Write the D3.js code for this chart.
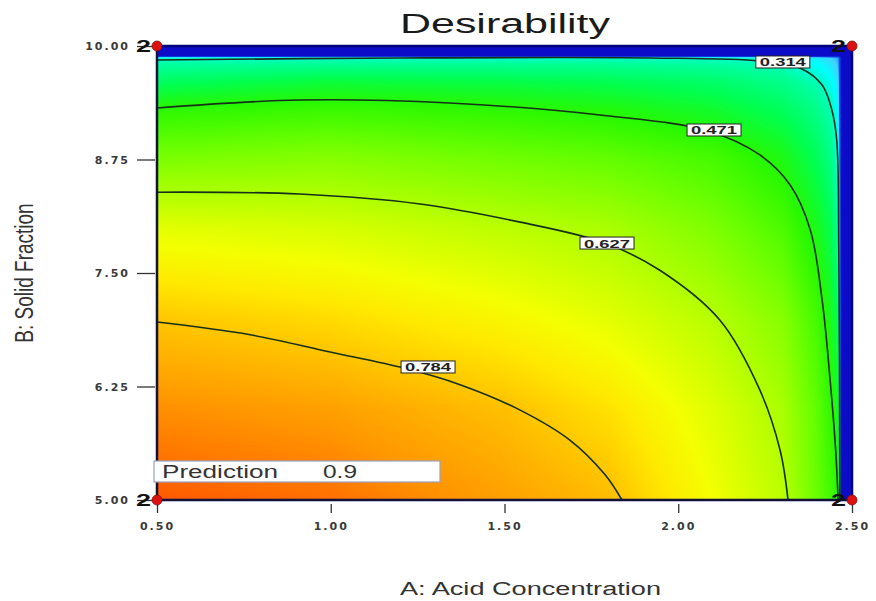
<!DOCTYPE html>
<html>
<head>
<meta charset="utf-8">
<script src="https://cdnjs.cloudflare.com/ajax/libs/d3/7.8.5/d3.min.js"></script>
<style>
  body { margin: 0; background: #fff; }
  svg { display: block; }
</style>
</head>
<body>
<svg id="chart" width="876" height="601"></svg>
<script>
(function() {
  'use strict';

  // axis ticks
  var xTicks = [0.50, 1.00, 1.50, 2.00, 2.50];
  var yTicks = [5.00, 6.25, 7.50, 8.75, 10.00];

  // desirability at grid nodes (A across, B down the list)
  var gridA = [0.50, 1.00, 1.50, 1.80, 2.10, 2.30, 2.40, 2.44, 2.46, 2.47, 2.50];
  var gridB = [5.00, 6.00, 7.00, 8.00, 8.80, 9.30, 9.60, 9.80, 9.87, 9.89, 10.00];
  var desirability = [
    [0.90, 0.88, 0.83, 0.795, 0.70, 0.635, 0.54, 0.50, 0.47, 0, 0],
    [0.85, 0.83, 0.79, 0.748, 0.675, 0.615, 0.53, 0.478, 0.44, 0, 0],
    [0.78, 0.755, 0.715, 0.68, 0.63, 0.575, 0.50, 0.445, 0.39, 0, 0],
    [0.68, 0.665, 0.635, 0.615, 0.565, 0.51, 0.445, 0.40, 0.33, 0, 0],
    [0.555, 0.57, 0.545, 0.53, 0.50, 0.45, 0.39, 0.35, 0.29, 0, 0],
    [0.474, 0.49, 0.475, 0.46, 0.43, 0.39, 0.35, 0.315, 0.26, 0, 0],
    [0.39, 0.42, 0.41, 0.40, 0.38, 0.35, 0.315, 0.28, 0.24, 0, 0],
    [0.33, 0.34, 0.34, 0.34, 0.33, 0.31, 0.27, 0.24, 0.21, 0, 0],
    [0.30, 0.30, 0.30, 0.30, 0.30, 0.28, 0.25, 0.22, 0.20, 0, 0],
    [0, 0, 0, 0, 0, 0, 0, 0, 0, 0, 0],
    [0, 0, 0, 0, 0, 0, 0, 0, 0, 0, 0]
  ];

  // contour lines [A, B]
  var line314 = [[0.500, 9.846], [1.199, 9.868], [1.919, 9.868], [2.235, 9.835], [2.350, 9.758],
                 [2.414, 9.570], [2.442, 9.295], [2.456, 8.965], [2.462, 7.753], [2.465, 5.000]];
  var line471 = [[0.500, 9.317], [0.912, 9.405], [1.343, 9.372], [1.775, 9.240], [2.086, 9.064],
                 [2.235, 8.800], [2.322, 8.469], [2.380, 7.974], [2.414, 7.203], [2.437, 6.322],
                 [2.453, 5.551], [2.460, 5.000]];
  var line627 = [[0.500, 8.390], [0.911, 8.370], [1.257, 8.260], [1.545, 8.060], [1.789, 7.830],
                 [1.947, 7.530], [2.120, 6.980], [2.235, 6.210], [2.293, 5.550], [2.316, 5.000]];
  var line784 = [[0.500, 6.960], [0.768, 6.820], [0.998, 6.630], [1.214, 6.450], [1.372, 6.270],
                 [1.545, 5.990], [1.688, 5.660], [1.789, 5.280], [1.838, 5.000]];

  var levels = ["0.314", "0.471", "0.627", "0.784"];
  var labelAt = [[2.301, 9.824], [2.103, 9.075], [1.795, 7.830], [1.280, 6.465]];
  var contourLines = [line314, line471, line627, line784];

  // design points [A, B, replicates]
  var designPoints = [[0.5, 10, 2], [2.5, 10, 2], [0.5, 5, 2], [2.5, 5, 2]];
  var prediction = 0.9;

  var colorStops = [0, 0.16, 0.22, 0.27, 0.33, 0.40, 0.47, 0.55, 0.627, 0.70, 0.74, 0.784, 0.84, 0.88, 0.91];
  var colorRamp = ["#0c0cc8", "#1060f0", "#40d0ff", "#00ffff", "#00ffa0", "#00ff50", "#28f800",
                   "#70ff00", "#b4ff00", "#f4ff00", "#ffe800", "#ffc400", "#ff9800", "#ff7000", "#ff4c00"];

  var svg = d3.select("#chart");

  var x = d3.scaleLinear().domain([0.5, 2.5]).range([157, 852]);
  var y = d3.scaleLinear().domain([5, 10]).range([500, 46]);
  var color = d3.scaleLinear().domain(colorStops).range(colorRamp).clamp(true);

  // colour lookup table
  var lut = d3.range(1001).map(function(k) { return d3.rgb(color(k / 1000 * 0.91)); });

  var locate = function(arr, v) {
    var i = d3.bisectRight(arr, v) - 1;
    i = Math.max(0, Math.min(arr.length - 2, i));
    var t = (v - arr[i]) / (arr[i + 1] - arr[i]);
    return [i, Math.max(0, Math.min(1, t))];
  };

  // Paint the response surface
  var x0 = x.range()[0], y0 = y.range()[1];
  var W = Math.round(x.range()[1] - x0), H = Math.round(y.range()[0] - y0);
  var canvas = document.createElement("canvas");
  canvas.width = W; canvas.height = H;
  var ctx = canvas.getContext("2d");
  var img = ctx.createImageData(W, H);
  var cols = [];
  for (var px = 0; px < W; px++) cols.push(locate(gridA, x.invert(x0 + px + 0.5)));
  for (var py = 0; py < H; py++) {
    var lb = locate(gridB, y.invert(y0 + py + 0.5)), j = lb[0], tb = lb[1];
    for (px = 0; px < W; px++) {
      var i = cols[px][0], ta = cols[px][1];
      var v = (1 - ta) * (1 - tb) * desirability[j][i] + ta * (1 - tb) * desirability[j][i + 1] +
              (1 - ta) * tb * desirability[j + 1][i] + ta * tb * desirability[j + 1][i + 1];
      var c = lut[Math.max(0, Math.min(1000, Math.round(v / 0.91 * 1000)))];
      var o = (py * W + px) * 4;
      img.data[o] = c.r; img.data[o + 1] = c.g; img.data[o + 2] = c.b; img.data[o + 3] = 255;
    }
  }
  ctx.putImageData(img, 0, 0);

  svg.append("image")
    .attr("x", x0).attr("y", y0).attr("width", W).attr("height", H)
    .attr("preserveAspectRatio", "none")
    .attr("href", canvas.toDataURL());

  // contours
  var path = d3.line()
    .x(function(d) { return x(d[0]); })
    .y(function(d) { return y(d[1]); })
    .curve(d3.curveCatmullRom.alpha(0.5));

  svg.append("g").selectAll("path")
    .data(contourLines)
    .enter().append("path")
    .attr("d", path)
    .attr("fill", "none")
    .attr("stroke", "#16301a")
    .attr("stroke-width", 1.6);

  var lab = svg.append("g").selectAll("g")
    .data(levels)
    .enter().append("g")
    .attr("transform", function(d, k) { return "translate(" + x(labelAt[k][0]) + "," + y(labelAt[k][1]) + ")"; });
  lab.append("rect")
    .attr("x", -27).attr("y", -6).attr("width", 54).attr("height", 12)
    .attr("fill", "#fff").attr("stroke", "#222").attr("stroke-width", 1);
  lab.append("text")
    .attr("x", -23).attr("y", 4.5)
    .attr("textLength", 46).attr("lengthAdjust", "spacingAndGlyphs")
    .style("font", "bold 11px 'Liberation Sans', Arial, sans-serif")
    .attr("fill", "#222")
    .text(function(d) { return d; });

  // plot frame
  svg.append("rect")
    .attr("x", x0).attr("y", y0).attr("width", W).attr("height", H)
    .attr("fill", "none").attr("stroke", "#00007a").attr("stroke-width", 2.5);
  svg.append("path")
    .attr("d", "M" + x0 + "," + y0 + "V" + (y0 + H) + "H" + (x0 + W))
    .attr("fill", "none").attr("stroke", "#1a1a1a").attr("stroke-width", 1.5);

  // axes
  var tickFont = "bold 11px 'DejaVu Sans', sans-serif";
  var gx = svg.append("g")
    .attr("transform", "translate(0,504)")
    .call(d3.axisBottom(x).tickValues(xTicks).tickFormat(d3.format(".2f")).tickSize(9).tickPadding(9));
  var gy = svg.append("g")
    .attr("transform", "translate(155,0)")
    .call(d3.axisLeft(y).tickValues(yTicks).tickFormat(d3.format(".2f")).tickSize(18).tickPadding(7));
  [gx, gy].forEach(function(g) {
    g.select(".domain").remove();
    g.selectAll("line").attr("stroke", "#333").attr("stroke-width", 1.3);
    g.selectAll("text").style("font", tickFont).style("letter-spacing", "2px").attr("fill", "#3a3a3a");
  });

  // design points
  var dp = svg.append("g").selectAll("g")
    .data(designPoints)
    .enter().append("g")
    .attr("transform", function(d) { return "translate(" + x(d[0]) + "," + y(d[1]) + ")"; });
  dp.append("text")
    .attr("x", -21).attr("y", 6)
    .attr("textLength", 15).attr("lengthAdjust", "spacingAndGlyphs")
    .style("font", "bold 17px 'Liberation Sans', Arial, sans-serif")
    .attr("fill", "#111")
    .text(function(d) { return d[2]; });
  dp.append("circle")
    .attr("r", 5)
    .attr("fill", "#dd1010")
    .attr("stroke", "#801010")
    .attr("stroke-width", 0.8);

  // prediction flag
  var flag = svg.append("g");
  flag.append("rect")
    .attr("x", 154).attr("y", 461).attr("width", 286).attr("height", 21)
    .attr("fill", "#fff").attr("stroke", "#9aa0c0").attr("stroke-width", 1.2);
  flag.append("text")
    .attr("x", 162).attr("y", 478)
    .attr("textLength", 116).attr("lengthAdjust", "spacingAndGlyphs")
    .style("font", "18px 'Liberation Sans', Arial, sans-serif").attr("fill", "#333")
    .text("Prediction");
  flag.append("text")
    .attr("x", 323).attr("y", 478)
    .attr("textLength", 34).attr("lengthAdjust", "spacingAndGlyphs")
    .style("font", "18px 'Liberation Sans', Arial, sans-serif").attr("fill", "#333")
    .text(String(prediction));

  // titles
  svg.append("text")
    .attr("x", 400).attr("y", 33)
    .attr("textLength", 210).attr("lengthAdjust", "spacingAndGlyphs")
    .style("font", "27px 'Liberation Sans', Arial, sans-serif").attr("fill", "#1a1a1a")
    .text("Desirability");
  svg.append("text")
    .attr("x", 400).attr("y", 595)
    .attr("textLength", 261).attr("lengthAdjust", "spacingAndGlyphs")
    .style("font", "18px 'Liberation Sans', Arial, sans-serif").attr("fill", "#333")
    .text("A: Acid Concentration");
  svg.append("text")
    .attr("transform", "translate(33,273) scale(1.4,1) rotate(-90)")
    .attr("text-anchor", "middle")
    .style("font", "19px 'Liberation Sans', Arial, sans-serif").attr("fill", "#333")
    .text("B: Solid Fraction");
})();
</script>
</body>
</html>
